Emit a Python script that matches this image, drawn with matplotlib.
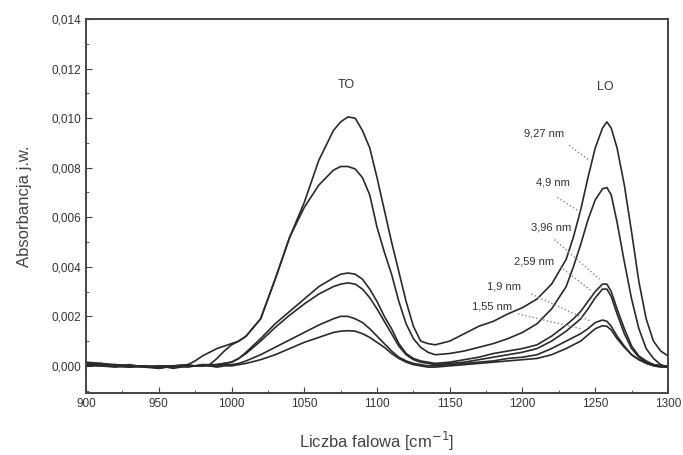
import numpy as np
import matplotlib
matplotlib.use("Agg")
import matplotlib.pyplot as plt
from matplotlib.ticker import MultipleLocator, FuncFormatter

plt.rcParams['font.family'] = ['Liberation Sans', 'DejaVu Sans']

# liczba falowa [cm^-1]
wavenumber = [900, 910, 920, 930, 940, 950, 960, 970, 975, 980, 985, 990, 995,
              1000, 1005, 1010, 1020, 1030, 1040, 1050, 1060, 1070, 1075, 1080,
              1085, 1090, 1095, 1100, 1105, 1110, 1115, 1120, 1125, 1130, 1135,
              1140, 1150, 1160, 1170, 1180, 1190, 1200, 1210, 1220, 1230, 1235,
              1240, 1245, 1250, 1255, 1258, 1261, 1265, 1270, 1275, 1280, 1285,
              1290, 1295, 1300]

# absorbancja w jednostkach 1e-3
a_927 = [0.15, 0.1, 0.05, 0.0, 0.0, -0.1, 0.0, 0.05, 0.2, 0.4, 0.55, 0.7, 0.8,
         0.9, 1.0, 1.2, 1.9, 3.5, 5.2, 6.6, 8.3, 9.5, 9.85, 10.05,
         10.0, 9.5, 8.8, 7.6, 6.3, 5.0, 3.8, 2.6, 1.6, 1.0, 0.9,
         0.85, 1.0, 1.3, 1.6, 1.8, 2.1, 2.35, 2.7, 3.3, 4.3, 5.2,
         6.3, 7.6, 8.8, 9.6, 9.85, 9.6, 8.8, 7.3, 5.4, 3.4, 1.9,
         1.0, 0.6, 0.4]
a_49 = [0.05, 0.1, 0.0, 0.05, -0.05, 0.0, 0.0, 0.05, 0.0, 0.05, 0.05, 0.3, 0.6,
        0.85, 1.0, 1.2, 1.9, 3.5, 5.2, 6.4, 7.3, 7.9, 8.05, 8.05,
        7.95, 7.6, 6.9, 5.6, 4.6, 3.7, 2.6, 1.7, 1.1, 0.75, 0.55,
        0.45, 0.5, 0.6, 0.75, 0.9, 1.1, 1.35, 1.7, 2.3, 3.2, 4.0,
        4.9, 5.9, 6.7, 7.15, 7.2, 6.9, 5.8, 4.2, 2.7, 1.5, 0.7,
        0.3, 0.05, -0.05]
a_396 = [0.0, 0.0, -0.05, 0.0, -0.05, -0.1, 0.0, 0.0, 0.0, 0.0, 0.05, 0.05, 0.1,
         0.15, 0.3, 0.55, 1.1, 1.7, 2.2, 2.7, 3.2, 3.55, 3.7, 3.75,
         3.7, 3.5, 3.1, 2.6, 2.0, 1.5, 0.9, 0.5, 0.3, 0.2, 0.15,
         0.1, 0.15, 0.25, 0.35, 0.5, 0.6, 0.7, 0.85, 1.2, 1.65, 1.9,
         2.2, 2.6, 3.0, 3.3, 3.3, 3.0, 2.3, 1.5, 0.8, 0.4, 0.2,
         0.05, 0.0, -0.05]
a_259 = [0.1, 0.05, 0.0, -0.05, 0.0, -0.05, -0.05, 0.0, 0.0, 0.05, 0.0, 0.05, 0.1,
         0.15, 0.3, 0.5, 1.0, 1.55, 2.05, 2.5, 2.9, 3.2, 3.3, 3.35,
         3.3, 3.1, 2.75, 2.3, 1.8, 1.3, 0.8, 0.45, 0.25, 0.15, 0.1,
         0.05, 0.1, 0.15, 0.25, 0.35, 0.45, 0.55, 0.7, 1.0, 1.4, 1.65,
         1.9, 2.3, 2.75, 3.1, 3.1, 2.8, 2.1, 1.3, 0.7, 0.35, 0.15,
         0.05, 0.0, 0.0]
a_19 = [0.05, 0.0, 0.05, 0.0, -0.05, 0.0, -0.1, 0.0, 0.0, 0.0, 0.05, 0.0, 0.05,
        0.05, 0.1, 0.2, 0.45, 0.75, 1.05, 1.35, 1.65, 1.9, 2.0, 2.0,
        1.9, 1.75, 1.5, 1.2, 0.9, 0.6, 0.35, 0.2, 0.1, 0.05, 0.0,
        0.0, 0.05, 0.1, 0.15, 0.2, 0.3, 0.35, 0.45, 0.7, 1.0, 1.15,
        1.3, 1.5, 1.75, 1.85, 1.8, 1.6, 1.2, 0.8, 0.45, 0.25, 0.1,
        0.0, -0.05, -0.05]
a_155 = [0.0, 0.05, 0.0, -0.05, 0.0, -0.05, 0.0, -0.05, 0.0, 0.0, 0.0, -0.05, 0.0,
         0.0, 0.05, 0.1, 0.25, 0.45, 0.7, 0.95, 1.15, 1.35, 1.4, 1.42,
         1.4, 1.3, 1.15, 0.95, 0.75, 0.5, 0.3, 0.15, 0.05, 0.0, -0.05,
         -0.05, 0.0, 0.05, 0.1, 0.15, 0.2, 0.25, 0.3, 0.45, 0.7, 0.85,
         1.0, 1.25, 1.5, 1.62, 1.6, 1.45, 1.1, 0.75, 0.45, 0.25, 0.15,
         0.05, 0.0, -0.05]

series = [a_927, a_49, a_396, a_259, a_19, a_155]

# opisy grubosci warstw i linie odniesienia (x, y tekstu; poczatek i koniec kropek)
thickness = ["9,27 nm", "4,9 nm", "3,96 nm", "2,59 nm", "1,9 nm", "1,55 nm"]
label_xy = [(1215, 0.0094), (1221, 0.0074), (1220, 0.0056),
            (1208, 0.0042), (1187, 0.0032), (1179, 0.0024)]
leader_from = [(1232, 0.0089), (1224, 0.0068), (1222, 0.0051),
               (1226, 0.0040), (1206, 0.0029), (1197, 0.0021)]
leader_to = [(1246, 0.0083), (1240, 0.0062), (1253, 0.0035),
             (1248, 0.0030), (1247, 0.0018), (1240, 0.0015)]

fig = plt.figure(figsize=(6.83, 4.55), dpi=100)
ax = fig.add_axes([0.126, 0.136, 0.852, 0.822])

for s in series:
    ax.plot(wavenumber, np.array(s) * 1e-3, color='#2a2a2a', lw=1.2)

for txt, (tx, ty), (x0, y0), (x1, y1) in zip(thickness, label_xy, leader_from, leader_to):
    ax.text(tx, ty, txt, fontsize=8, color='#333333', ha='center', va='center')
    ax.plot([x0, x1], [y0, y1], ls=':', color='#888888', lw=1.0)

ax.text(1079, 0.01133, "TO", fontsize=9, color='#333333', ha='center', va='center')
ax.text(1257, 0.01125, "LO", fontsize=9, color='#333333', ha='center', va='center')

ax.set_xlim(900, 1300)
ax.set_ylim(-0.0011, 0.014)
ax.xaxis.set_major_locator(MultipleLocator(50))
ax.xaxis.set_minor_locator(MultipleLocator(25))
ax.yaxis.set_major_locator(MultipleLocator(0.002))
ax.yaxis.set_minor_locator(MultipleLocator(0.001))
ax.yaxis.set_major_formatter(FuncFormatter(lambda v, p: f"{v:.3f}".replace('.', ',')))

ax.tick_params(which='both', direction='in', top=False, right=False,
               labelsize=8.5, labelcolor='#333333', color='#444444')
ax.tick_params(which='major', length=4)
ax.tick_params(which='minor', length=2.5)
for sp in ax.spines.values():
    sp.set_color('#444444')
    sp.set_linewidth(1.4)

ax.set_xlabel("Liczba falowa [cm$^{-1}$]", fontsize=12, color='#444444', labelpad=14)
ax.set_ylabel("Absorbancja j.w.", fontsize=12, color='#444444', labelpad=14)

fig.savefig("out.png", dpi=100)
